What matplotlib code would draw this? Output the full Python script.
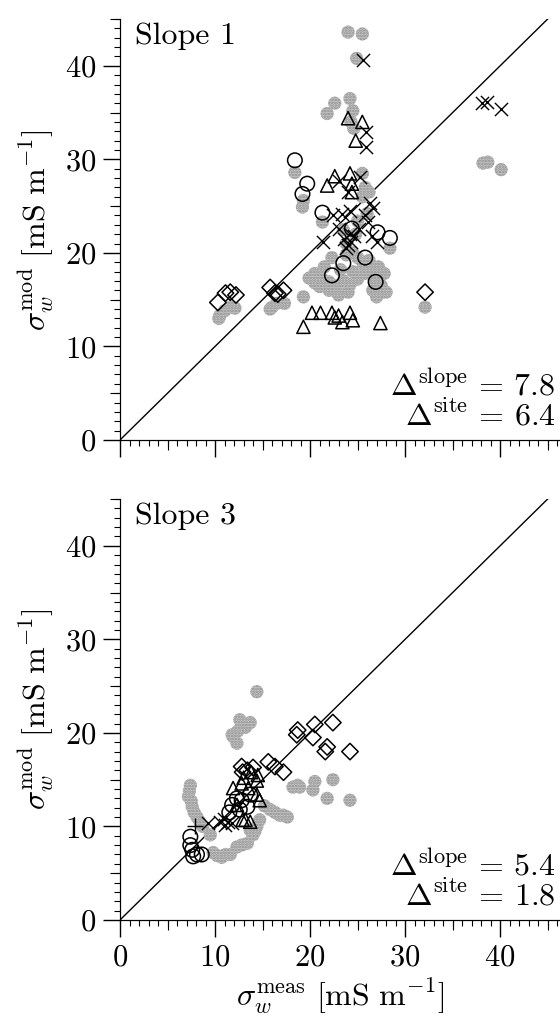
import matplotlib
matplotlib.use("Agg")
import matplotlib.pyplot as plt
from matplotlib.ticker import MultipleLocator, NullFormatter

plt.rcParams['font.family'] = 'serif'
plt.rcParams['font.serif'] = ['cmr10', 'DejaVu Serif']
plt.rcParams['mathtext.fontset'] = 'cm'
plt.rcParams['axes.formatter.use_mathtext'] = True
plt.rcParams['hatch.linewidth'] = 1.3

# ---- Slope 1 data (x = measured, y = modelled) ----
s1_gray_x = [24.0, 25.5, 24.9, 22.6, 21.8, 24.2, 24.5, 24.3, 24.6,
             18.4, 19.3, 19.2, 21.3, 25.8, 25.5, 26.0, 25.0, 25.5, 26.2,
             28.4, 24.5, 23.8, 25.0, 25.6, 22.3, 21.5, 20.5, 19.9, 20.5, 21.3,
             22.0, 22.8, 23.5, 24.2, 25.0, 25.8, 26.5, 27.2, 27.8, 27.5, 28.0,
             26.6, 24.0, 23.0, 22.0, 21.0, 24.5, 23.2, 26.2, 27.0, 26.8, 23.8,
             24.8, 23.5, 19.3, 32.1, 38.2, 38.7, 40.1, 27.4,
             10.5, 11.0, 11.6, 12.1, 10.4, 16.5, 16.0, 17.3, 15.8]
s1_gray_y = [43.6, 43.4, 40.8, 36.0, 34.9, 36.5, 35.2, 34.0, 33.3,
             28.6, 25.6, 24.9, 23.3, 27.0, 26.0, 24.2, 23.4, 28.5, 26.5,
             20.5, 20.0, 19.8, 19.5, 18.8, 19.5, 18.5, 17.8, 17.3, 16.8, 17.2,
             16.9, 16.5, 17.0, 16.6, 17.2, 17.8, 18.2, 18.5, 17.8, 16.5, 15.8,
             16.0, 15.8, 15.5, 16.0, 16.4, 18.0, 18.2, 19.2, 15.3, 17.0, 21.0,
             22.0, 22.5, 15.3, 14.2, 29.6, 29.7, 28.9, 15.7,
             13.3, 13.8, 14.2, 14.1, 13.0, 14.6, 14.2, 14.6, 14.0]
s1_circ_x = [18.4, 19.7, 19.2, 21.3, 24.4, 27.1, 28.4, 25.8, 23.5, 22.3, 26.9]
s1_circ_y = [29.9, 27.4, 26.3, 24.3, 22.6, 22.2, 21.6, 19.5, 18.9, 17.6, 16.9]
s1_tri_x = [24.0, 25.5, 24.8, 22.6, 21.8, 24.2, 24.4, 24.4,
            20.2, 21.1, 22.3, 23.0, 23.4, 24.2, 24.5, 19.3, 27.4, 22.6]
s1_tri_y = [34.4, 34.0, 32.0, 28.2, 27.2, 28.5, 27.4, 26.5,
            13.6, 13.6, 13.6, 13.3, 12.6, 13.6, 12.8, 12.1, 12.5, 13.1]
s1_x_x = [25.6, 38.1, 38.6, 40.1, 25.9, 25.9, 23.0, 25.3, 24.0, 26.3, 26.6,
          24.2, 23.4, 22.4, 25.8, 26.1, 25.1, 23.0, 21.4, 23.6, 24.0, 24.3,
          23.8, 24.6, 24.2, 26.5, 27.0]
s1_x_y = [40.6, 36.0, 36.1, 35.4, 32.9, 31.3, 27.7, 28.1, 26.5, 25.3, 24.8,
          24.5, 24.2, 24.0, 24.0, 23.3, 22.6, 22.6, 21.2, 21.5, 20.8, 21.2,
          20.5, 21.8, 22.0, 21.8, 21.2]
s1_dia_x = [10.3, 11.1, 11.6, 12.2, 15.8, 16.3, 17.2, 16.6, 32.1]
s1_dia_y = [14.7, 15.7, 15.8, 15.5, 16.3, 15.7, 16.0, 15.6, 15.8]

# ---- Slope 3 data ----
s3_gray_x = [12.8, 11.8, 12.3, 13.7, 12.6, 11.9, 14.4, 12.4, 13.2,
             18.9, 20.5, 20.3, 22.4, 21.8, 24.2, 18.7, 18.2,
             7.4, 7.2, 7.6, 8.1, 8.7, 9.5, 7.3, 7.5, 7.8, 8.4,
             9.8, 10.7, 11.6, 12.3, 13.4, 14.0, 14.4, 13.7, 10.2, 11.1, 12.8, 14.2,
             15.8, 16.8, 17.6, 14.7, 15.2, 16.3, 17.2]
s3_gray_y = [20.9, 19.8, 18.9, 21.1, 21.4, 19.6, 24.4, 20.2, 20.6,
             14.2, 14.8, 13.9, 15.0, 13.0, 12.8, 14.4, 14.2,
             14.4, 13.2, 12.1, 11.0, 10.0, 9.1, 13.8, 12.7, 11.5, 10.5,
             7.2, 6.7, 7.0, 7.8, 8.2, 9.1, 10.0, 9.6, 6.9, 7.0, 8.0, 9.5,
             11.8, 11.2, 11.0, 10.7, 12.2, 11.5, 11.2]
s3_circ_x = [13.7, 12.3, 12.6, 11.8, 13.4, 7.4, 7.4, 7.6, 8.1, 8.6, 7.7, 12.8, 11.5]
s3_circ_y = [13.4, 13.0, 11.8, 12.3, 12.1, 8.9, 8.0, 7.5, 7.0, 7.0, 6.8, 12.8, 11.5]
s3_tri_x = [14.5, 14.4, 11.9, 12.8, 13.5, 14.7, 14.4, 12.3, 13.2, 13.7, 12.9, 13.0, 13.8]
s3_tri_y = [15.5, 14.9, 14.1, 14.6, 14.1, 12.8, 13.4, 12.3, 10.7, 10.5, 10.7, 15.2, 15.8]
s3_x_x = [9.3, 10.5, 11.1, 11.4, 10.9, 11.8]
s3_x_y = [10.4, 10.5, 10.2, 10.5, 10.8, 10.4]
s3_plus_x = [7.9]
s3_plus_y = [10.0]
s3_dia_x = [18.7, 18.6, 20.5, 22.4, 20.3, 21.8, 21.6, 24.2, 15.6, 16.3, 17.2,
            12.8, 13.4, 14.0, 12.9]
s3_dia_y = [20.3, 19.8, 20.9, 21.1, 19.5, 18.5, 18.0, 18.0, 16.9, 16.4, 15.8,
            16.4, 16.0, 16.3, 15.8]

panels = [
    dict(name='Slope 1', gray=(s1_gray_x, s1_gray_y), circ=(s1_circ_x, s1_circ_y),
         tri=(s1_tri_x, s1_tri_y), x=(s1_x_x, s1_x_y), plus=([], []),
         dia=(s1_dia_x, s1_dia_y), d_slope='7.8', d_site='6.4'),
    dict(name='Slope 3', gray=(s3_gray_x, s3_gray_y), circ=(s3_circ_x, s3_circ_y),
         tri=(s3_tri_x, s3_tri_y), x=(s3_x_x, s3_x_y), plus=(s3_plus_x, s3_plus_y),
         dia=(s3_dia_x, s3_dia_y), d_slope='5.4', d_site='1.8'),
]

fig = plt.figure(figsize=(5.6, 10.18), dpi=100)
ax1 = fig.add_axes([0.2143, 0.5678, 0.7857, 0.4135])
ax2 = fig.add_axes([0.2143, 0.0963, 0.7857, 0.4135])

ylab = r'$\sigma_w^{\rm mod}\ [\mathrm{mS\ m}^{-1}]$'
xlab = r'$\sigma_w^{\rm meas}\ [\mathrm{mS\ m}^{-1}]$'

for ax, p in zip([ax1, ax2], panels):
    ax.plot([0, 46], [0, 46], color='black', lw=1.0, zorder=1)
    ax.scatter(*p['gray'], s=90, facecolor='#cacaca', edgecolor='#8a8a8a',
               hatch='......', linewidth=0, zorder=2)
    ax.scatter(*p['circ'], s=110, facecolor='none', edgecolor='black', linewidth=1.1, zorder=3)
    ax.scatter(*p['tri'], s=90, marker='^', facecolor='none', edgecolor='black', linewidth=1.1, zorder=3)
    ax.scatter(*p['dia'], s=70, marker='D', facecolor='none', edgecolor='black', linewidth=1.1, zorder=3)
    ax.scatter(*p['x'], s=90, marker='x', color='black', linewidth=1.0, zorder=3)
    ax.scatter(*p['plus'], s=120, marker='+', color='black', linewidth=1.0, zorder=3)

    ax.set_xlim(0, 46.3)
    ax.set_ylim(0, 45)
    ax.spines['top'].set_visible(False)
    ax.spines['right'].set_visible(False)
    ax.xaxis.set_major_locator(MultipleLocator(10))
    ax.yaxis.set_major_locator(MultipleLocator(10))
    ax.xaxis.set_minor_locator(MultipleLocator(1))
    ax.yaxis.set_minor_locator(MultipleLocator(1))
    ax.tick_params(which='major', direction='out', length=12, width=1, labelsize=22, pad=5)
    ax.tick_params(which='minor', direction='out', length=4.5, width=0.8)
    # medium ticks at the fives
    sx = ax.secondary_xaxis('bottom')
    sx.set_xticks([5, 15, 25, 35, 45])
    sx.xaxis.set_major_formatter(NullFormatter())
    sx.tick_params(direction='out', length=7.5, width=0.8)
    sy = ax.secondary_yaxis('left')
    sy.set_yticks([5, 15, 25, 35, 45])
    sy.yaxis.set_major_formatter(NullFormatter())
    sy.tick_params(direction='out', length=7.5, width=0.8)

    ax.set_ylabel(ylab, fontsize=23, labelpad=6)
    ax.text(0.035, 0.94, p['name'], transform=ax.transAxes, fontsize=23,
            ha='left', va='baseline')
    dtxt = (r'$\Delta^{\rm slope}\,=\,' + p['d_slope'] + '$\n'
            + r'$\Delta^{\rm site}\,=\,' + p['d_site'] + '$')
    ax.text(0.99, 0.034, dtxt, transform=ax.transAxes, fontsize=23,
            ha='right', va='baseline', multialignment='right', linespacing=0.95)

ax1.tick_params(axis='x', which='both', labelbottom=False)
ax2.set_xlabel(xlab, fontsize=23, labelpad=4)

fig.savefig('out.png', dpi=100)
